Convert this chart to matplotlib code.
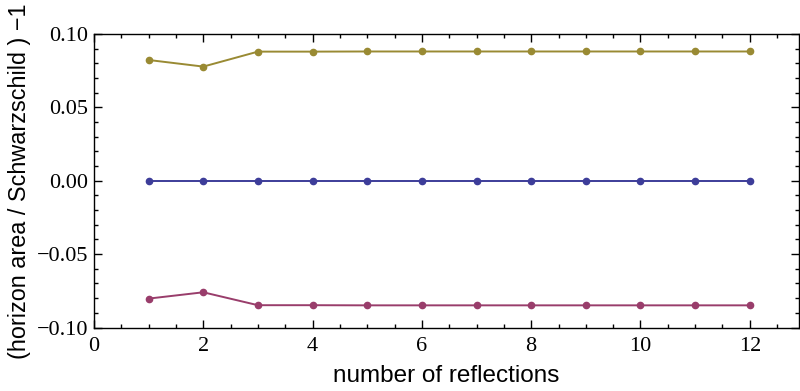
import matplotlib.pyplot as plt
from matplotlib.ticker import MultipleLocator

# data
reflections = [1, 2, 3, 4, 5, 6, 7, 8, 9, 10, 11, 12]
upper = [0.0823, 0.0778, 0.0880, 0.0880, 0.0881, 0.0881, 0.0881, 0.0881, 0.0881, 0.0881, 0.0881, 0.0881]
middle = [0.0, 0.0, 0.0, 0.0, 0.0, 0.0, 0.0, 0.0, 0.0, 0.0, 0.0, 0.0]
lower = [-0.0803, -0.0760, -0.0848, -0.0848, -0.0849, -0.0849, -0.0849, -0.0849, -0.0849, -0.0849, -0.0849, -0.0849]

fig = plt.figure(figsize=(8, 3.91), dpi=100)
ax = fig.add_axes([0.1175, 0.1624, 0.8812, 0.7506])

# Mathematica-like default colours
ax.plot(reflections, middle, color='#3d3d99', lw=1.4, marker='o', ms=4.5, zorder=3)
ax.plot(reflections, lower, color='#993d6b', lw=1.4, marker='o', ms=4.5, zorder=3)
ax.plot(reflections, upper, color='#998a33', lw=1.4, marker='o', ms=4.5, zorder=3)

ax.set_xlim(0, 12.9)
ax.set_ylim(-0.10, 0.10)
ax.xaxis.set_major_locator(MultipleLocator(2))
ax.xaxis.set_minor_locator(MultipleLocator(0.5))
ax.yaxis.set_major_locator(MultipleLocator(0.05))
ax.yaxis.set_minor_locator(MultipleLocator(0.01))
ax.set_yticks([-0.10, -0.05, 0.0, 0.05, 0.10])
ax.set_yticklabels(['\u22120.10', '\u22120.05', '0.00', '0.05', '0.10'])

ax.tick_params(which='both', direction='in', top=True, right=True, width=1)
ax.tick_params(which='major', length=6, labelsize=16)
ax.tick_params(axis='x', which='major', pad=7)
ax.tick_params(axis='y', which='major', pad=4)
ax.tick_params(which='minor', length=3)
for lab in ax.get_xticklabels() + ax.get_yticklabels():
    lab.set_fontfamily('Liberation Serif')
for s in ax.spines.values():
    s.set_linewidth(1)

ax.set_xlabel('number of reflections', fontsize=17.5, family='Liberation Sans', labelpad=6)
ax.set_ylabel('(horizon area / Schwarzschild ) \u22121', fontsize=16.8, family='Liberation Sans', labelpad=4)

fig.savefig('out.png', dpi=100)
